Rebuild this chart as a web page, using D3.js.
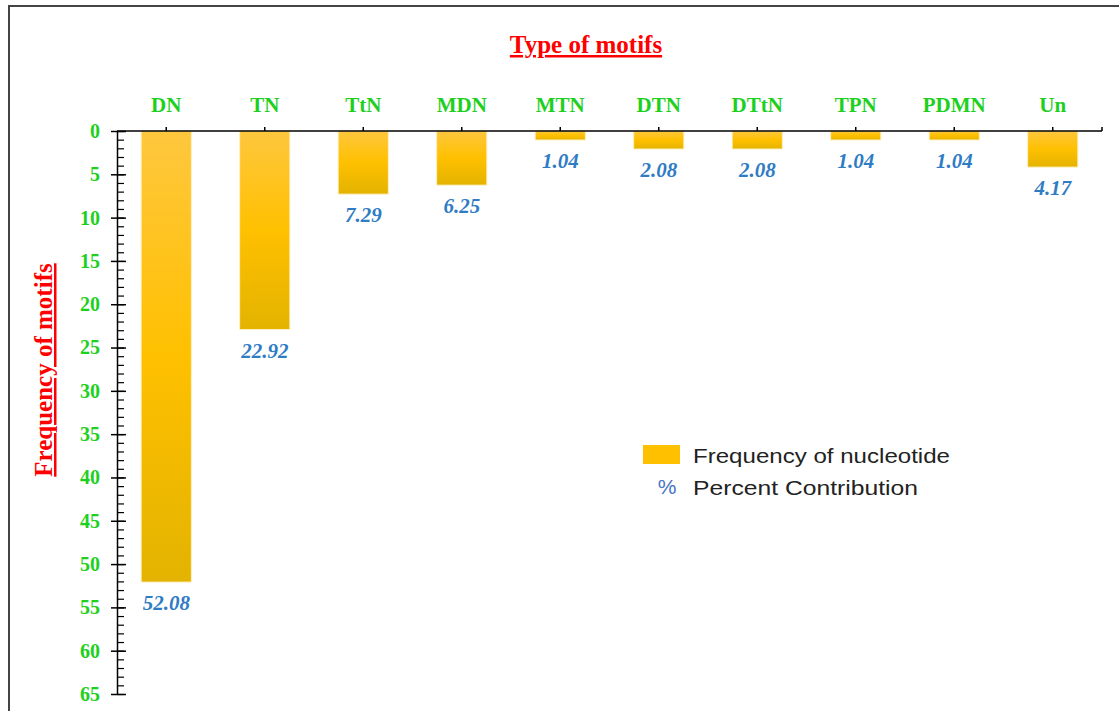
<!DOCTYPE html>
<html>
<head>
<meta charset="utf-8">
<script src="https://cdn.jsdelivr.net/npm/d3@7"></script>
<style>
  html, body { margin: 0; padding: 0; background: #fff; }
  svg { display: block; }
  .serif { font-family: "Liberation Serif", "Times New Roman", serif; }
</style>
</head>
<body>
<div id="chart"></div>
<script>
// motif types and their share (%) of all motifs
const motifs = ['DN', 'TN', 'TtN', 'MDN', 'MTN', 'DTN', 'DTtN', 'TPN', 'PDMN', 'Un'];
const percent = [52.08, 22.92, 7.29, 6.25, 1.04, 2.08, 2.08, 1.04, 1.04, 4.17];
const majorTicks = [0, 5, 10, 15, 20, 25, 30, 35, 40, 45, 50, 55, 60, 65];
const legendItems = ['Frequency of nucleotide', 'Percent Contribution'];

const width = 1119;
const height = 711;

const svg = d3.select('#chart')
  .append('svg')
  .attr('width', width)
  .attr('height', height);

const defs = svg.append('defs');
const grad = defs.append('linearGradient')
  .attr('id', 'barGrad')
  .attr('x1', '0%').attr('y1', '0%').attr('x2', '0%').attr('y2', '100%');
grad.append('stop').attr('offset', '0%').attr('stop-color', '#fec73e');
grad.append('stop').attr('offset', '50%').attr('stop-color', '#ffc000');
grad.append('stop').attr('offset', '100%').attr('stop-color', '#e3b300');

// outer frame (right and bottom edges fall outside the picture)
svg.append('rect')
  .attr('x', 9).attr('y', 6)
  .attr('width', width + 20).attr('height', height + 20)
  .attr('fill', 'none')
  .attr('stroke', '#444')
  .attr('stroke-width', 2);

const x = d3.scaleBand()
  .domain(motifs)
  .range([117, 1102])
  .paddingInner(0.49)
  .paddingOuter(0.245);

const y = d3.scaleLinear()
  .domain([0, 65])
  .range([131, 694]);

const green = '#1ed01e';

// bars hang down from the top axis
svg.append('g')
  .selectAll('rect')
  .data(motifs)
  .join('rect')
  .attr('x', (d) => x(d))
  .attr('y', y(0))
  .attr('width', x.bandwidth())
  .attr('height', (d, i) => y(percent[i]) - y(0))
  .attr('fill', 'url(#barGrad)')
  .attr('stroke', '#fff1c4')
  .attr('stroke-width', 1);

// value labels under each bar
svg.append('g')
  .selectAll('text')
  .data(motifs)
  .join('text')
  .attr('class', 'serif')
  .attr('x', (d) => x(d) + x.bandwidth() / 2)
  .attr('y', (d, i) => y(percent[i]) + 28)
  .attr('text-anchor', 'middle')
  .attr('font-size', 21)
  .attr('font-style', 'italic')
  .attr('font-weight', 'bold')
  .attr('fill', '#2f7cc4')
  .text((d, i) => percent[i].toFixed(2));

// x axis on top
const xAxis = svg.append('g')
  .attr('transform', `translate(0,${y(0)})`)
  .call(d3.axisTop(x).tickSize(4).tickSizeOuter(0).tickPadding(15));
xAxis.select('.domain').remove();
xAxis.selectAll('line').attr('stroke', '#000').attr('stroke-width', 1.5);
xAxis.selectAll('text')
  .attr('class', 'serif')
  .attr('font-size', 21)
  .attr('font-weight', 'bold')
  .attr('fill', green);

svg.append('line')
  .attr('x1', x.range()[0]).attr('x2', x.range()[1])
  .attr('y1', y(0)).attr('y2', y(0))
  .attr('stroke', '#000').attr('stroke-width', 1.5);
svg.append('line')
  .attr('x1', x.range()[1]).attr('x2', x.range()[1])
  .attr('y1', y(0) - 4).attr('y2', y(0))
  .attr('stroke', '#000').attr('stroke-width', 1.5);

// y axis: labelled major ticks, plus minor ticks to the right
const yAxis = svg.append('g')
  .attr('transform', `translate(${x.range()[0]},0)`)
  .call(d3.axisLeft(y).tickValues(majorTicks).tickSize(6).tickPadding(11).tickSizeOuter(0));
yAxis.select('.domain').attr('stroke', '#000').attr('stroke-width', 1.5);
yAxis.selectAll('line').attr('stroke', '#000').attr('stroke-width', 1.5);
yAxis.selectAll('text')
  .attr('class', 'serif')
  .attr('font-size', 20)
  .attr('font-weight', 'bold')
  .attr('fill', green);

const yMajorRight = svg.append('g')
  .attr('transform', `translate(${x.range()[0]},0)`)
  .call(d3.axisRight(y).tickValues(majorTicks).tickSize(9).tickFormat('').tickSizeOuter(0));
yMajorRight.select('.domain').remove();
yMajorRight.selectAll('line').attr('stroke', '#000').attr('stroke-width', 1.5);

const yMinor = svg.append('g')
  .attr('transform', `translate(${x.range()[0]},0)`)
  .call(d3.axisRight(y).tickValues(d3.range(0, 66)).tickSize(7).tickFormat('').tickSizeOuter(0));
yMinor.select('.domain').remove();
yMinor.selectAll('line').attr('stroke', '#000').attr('stroke-width', 1.2);

// titles
svg.append('text')
  .attr('class', 'serif')
  .attr('x', 586).attr('y', 53)
  .attr('text-anchor', 'middle')
  .attr('font-size', 25)
  .attr('font-weight', 'bold')
  .attr('fill', '#ff0000')
  .attr('text-decoration', 'underline')
  .text('Type of motifs');

svg.append('text')
  .attr('class', 'serif')
  .attr('transform', 'translate(52,370) rotate(-90)')
  .attr('text-anchor', 'middle')
  .attr('font-size', 25)
  .attr('font-weight', 'bold')
  .attr('fill', '#ff0000')
  .attr('text-decoration', 'underline')
  .text('Frequency of motifs');

// legend
const legendWidths = [257, 225];
const legend = svg.append('g').attr('transform', 'translate(643,445)');
legend.append('rect')
  .attr('width', 37).attr('height', 19)
  .attr('fill', '#ffc000');
legend.append('text')
  .attr('x', 24).attr('y', 49)
  .attr('text-anchor', 'middle')
  .attr('font-family', 'Liberation Sans, Arial, sans-serif')
  .attr('font-size', 21)
  .attr('fill', '#4472c4')
  .text('%');
legend.selectAll('text.item')
  .data(legendItems)
  .join('text')
  .attr('class', 'item')
  .attr('x', 50)
  .attr('y', (d, i) => 18 + i * 32)
  .attr('font-family', 'Liberation Sans, Arial, sans-serif')
  .attr('font-size', 21)
  .attr('textLength', (d, i) => legendWidths[i])
  .attr('lengthAdjust', 'spacingAndGlyphs')
  .attr('fill', '#222')
  .text((d) => d);
</script>
</body>
</html>
